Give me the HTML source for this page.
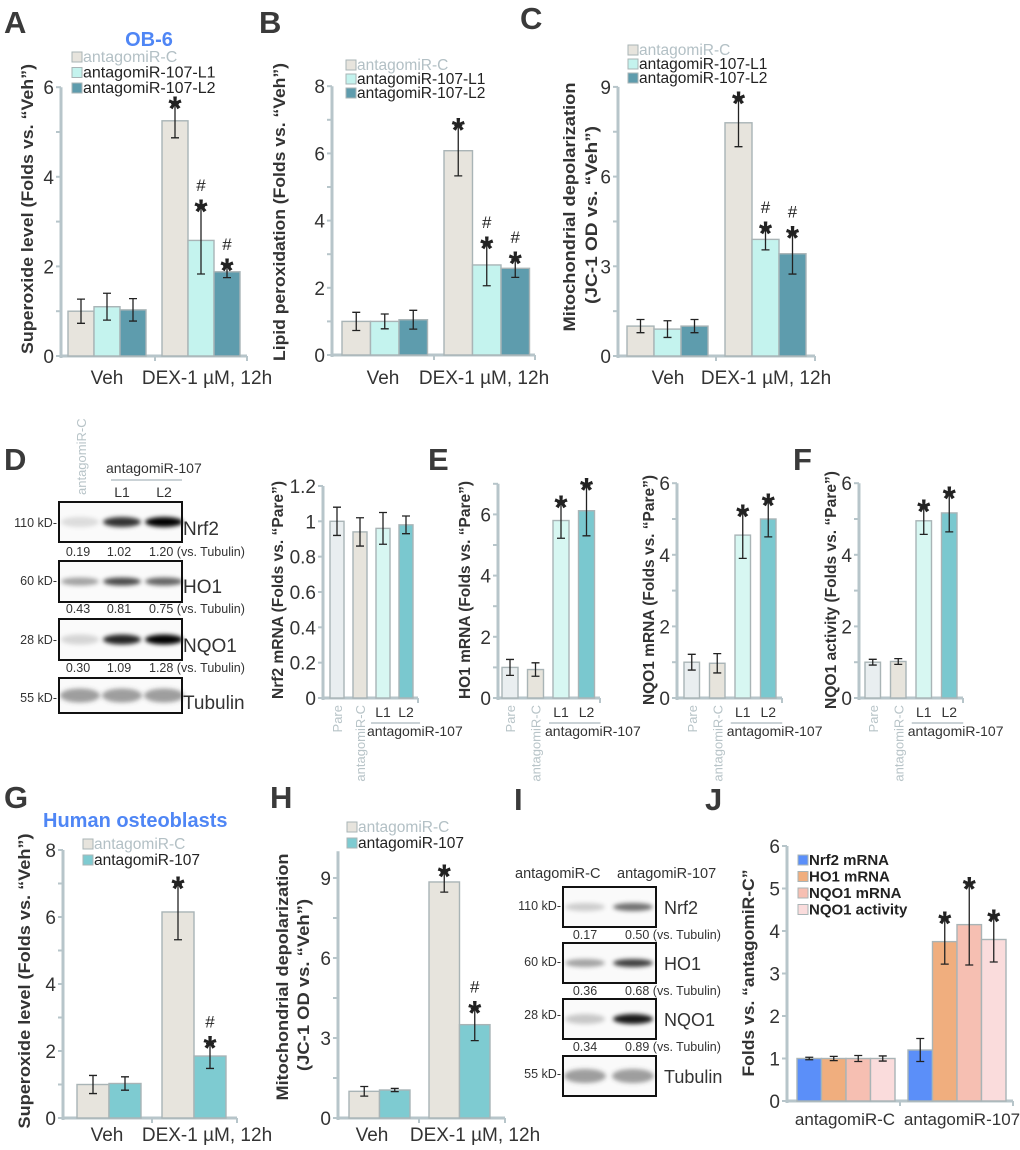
<!DOCTYPE html>
<html><head><meta charset="utf-8"><style>
html,body{margin:0;padding:0;background:#fff;}
svg{display:block;font-family:"Liberation Sans",Arial,sans-serif;}
</style></head><body>
<svg id="fig" width="1020" height="1150" viewBox="0 0 1020 1150" xmlns="http://www.w3.org/2000/svg">
<defs><filter id="blur" x="-30%" y="-100%" width="160%" height="300%"><feGaussianBlur stdDeviation="2.2"/></filter></defs>
</svg>
<script>
// ---------- DATA ----------
const A_groups=['Veh','DEX-1 µM, 12h'];
const A_C=[1.0,5.25], A_C_err=[0.27,0.38], A_C_marks=['','*'];
const A_L1=[1.1,2.58], A_L1_err=[0.3,0.75], A_L1_marks=['','#*'];
const A_L2=[1.03,1.88], A_L2_err=[0.25,0.13], A_L2_marks=['','#*'];
const A_ticks=[0,2,4,6];

const B_groups=['Veh','DEX-1 µM, 12h'];
const B_C=[1.0,6.08], B_C_err=[0.27,0.75], B_C_marks=['','*'];
const B_L1=[1.0,2.68], B_L1_err=[0.22,0.62], B_L1_marks=['','#*'];
const B_L2=[1.05,2.58], B_L2_err=[0.28,0.27], B_L2_marks=['','#*'];
const B_ticks=[0,2,4,6,8];

const C_groups=['Veh','DEX-1 µM, 12h'];
const C_C=[1.0,7.8], C_C_err=[0.22,0.8], C_C_marks=['','*'];
const C_L1=[0.9,3.9], C_L1_err=[0.28,0.35], C_L1_marks=['','#*'];
const C_L2=[1.0,3.42], C_L2_err=[0.22,0.68], C_L2_marks=['','#*'];
const C_ticks=[0,3,6,9];

const D_cats=['Pare','antagomiR-C','L1','L2'];
const Nrf2_vals=[1.0,0.94,0.96,0.98], Nrf2_err=[0.08,0.08,0.09,0.05], Nrf2_marks=['','','',''];
const Nrf2_ticks=[0,0.2,0.4,0.6,0.8,1,1.2];
const HO1_vals=[1.0,0.93,5.8,6.12], HO1_err=[0.26,0.22,0.58,0.82], HO1_marks=['','','*','*'];
const HO1_ticks=[0,2,4,6];
const NQO1m_vals=[1.0,0.97,4.55,5.0], NQO1m_err=[0.22,0.27,0.65,0.5], NQO1m_marks=['','','*','*'];
const NQO1m_ticks=[0,2,4,6];
const NQO1a_vals=[1.0,1.02,4.95,5.17], NQO1a_err=[0.08,0.08,0.38,0.53], NQO1a_marks=['','','*','*'];
const NQO1a_ticks=[0,2,4,6];

const G_groups=['Veh','DEX-1 µM, 12h'];
const G_C=[1.0,6.15], G_C_err=[0.27,0.83], G_C_marks=['','*'];
const G_107=[1.03,1.85], G_107_err=[0.2,0.37], G_107_marks=['','#*'];
const G_ticks=[0,2,4,6,8];

const H_groups=['Veh','DEX-1 µM, 12h'];
const H_C=[1.0,8.85], H_C_err=[0.18,0.38], H_C_marks=['','*'];
const H_107=[1.05,3.5], H_107_err=[0.06,0.6], H_107_marks=['','#*'];
const H_ticks=[0,3,6,9];

const J_groups=['antagomiR-C','antagomiR-107'];
const J_Nrf2=[1.0,1.2], J_Nrf2_err=[0.03,0.27], J_Nrf2_marks=['',''];
const J_HO1=[1.0,3.75], J_HO1_err=[0.05,0.53], J_HO1_marks=['','*'];
const J_NQO1m=[1.0,4.15], J_NQO1m_err=[0.07,0.95], J_NQO1m_marks=['','*'];
const J_NQO1a=[1.0,3.8], J_NQO1a_err=[0.06,0.53], J_NQO1a_marks=['','*'];
const J_ticks=[0,1,2,3,4,5,6];

// blot data
const D_Nrf2_q=['0.19','1.02','1.20'], D_HO1_q=['0.43','0.81','0.75'], D_NQO1_q=['0.30','1.09','1.28'];
const D_Nrf2_int=[0.12,0.8,1.0], D_HO1_int=[0.35,0.7,0.6], D_NQO1_int=[0.15,0.85,1.0], D_Tub_int=[0.5,0.5,0.5];
const I_Nrf2_q=['0.17','0.50'], I_HO1_q=['0.36','0.68'], I_NQO1_q=['0.34','0.89'];
const I_Nrf2_int=[0.18,0.55], I_HO1_int=[0.35,0.75], I_NQO1_int=[0.2,0.9], I_Tub_int=[0.5,0.5];

// ---------- HELPERS ----------
const NS='http://www.w3.org/2000/svg';
const svg=document.getElementById('fig');
const AX='#b7c5ca', TXT='#333';
function el(tag,attrs,parent){const e=document.createElementNS(NS,tag);for(const k in attrs)e.setAttribute(k,attrs[k]);(parent||svg).appendChild(e);return e;}
function txt(s,attrs,parent){const e=el('text',attrs,parent);e.textContent=s;return e;}
function grp(name){const g=el('g',{});return g;}

function drawChart(cfg,series){
  const g=grp(cfg.name);
  const yS=v=>cfg.y0-v*cfg.ppu;
  // axis
  const ya=el('line',{x1:cfg.ax,y1:cfg.y0+2,x2:cfg.ax,y2:yS(cfg.top),stroke:AX,'stroke-width':3},g);
  
  for(let v=0;v<=cfg.top+1e-6;v+=cfg.minor){el('line',{x1:cfg.ax-5,y1:yS(v),x2:cfg.ax,y2:yS(v),stroke:AX,'stroke-width':2},g);}
  cfg.ticks.forEach(v=>{
    const t=txt(String(v),{x:cfg.ax-7,y:yS(v)+7,'text-anchor':'end','font-size':cfg.tfs||19,fill:TXT},g);
    
  });
  const xa=el('line',{x1:cfg.ax,y1:cfg.y0,x2:cfg.xEnd,y2:cfg.y0,stroke:AX,'stroke-width':3},g);
  
  (cfg.xticks||[]).forEach(x=>el('line',{x1:x,y1:cfg.y0,x2:x,y2:cfg.y0+5,stroke:AX,'stroke-width':2},g));
  el('line',{x1:cfg.xEnd,y1:cfg.y0,x2:cfg.xEnd,y2:cfg.y0+5,stroke:AX,'stroke-width':2},g);
  // bars
  const nG=series[0].vals.length;
  for(let gi=0;gi<nG;gi++){
    series.forEach((s,si)=>{
      const v=s.vals[gi],e=s.errs[gi],m=s.marks[gi];
      const x=cfg.xStart+gi*cfg.period+si*cfg.step, w=cfg.barW, cx=x+w/2;
      const fill=Array.isArray(s.fill)?s.fill[gi]:s.fill;
      const r=el('rect',{x:x,y:yS(v),width:w,height:v*cfg.ppu,fill:fill,stroke:'#a9b4b6','stroke-width':1.4},g);
      
      const top=yS(v+e),bot=yS(v-e),cw=4;
      const eb=el('path',{d:`M${cx},${top}V${bot}M${cx-cw},${top}H${cx+cw}M${cx-cw},${bot}H${cx+cw}`,stroke:'#222','stroke-width':1.3,fill:'none'},g);
      
      if(m.indexOf('*')>=0){
        const st=txt('*',{x:cx,y:top+16,'text-anchor':'middle','font-size':34,'font-weight':'bold',fill:'#222'},g);
        
      }
      if(m.indexOf('#')>=0){
        const h=txt('#',{x:cx,y:top-16,'text-anchor':'middle','font-size':17,fill:'#222'},g);
        
      }
    });
  }
  return g;
}
function yTitle(lines,x,yc,len,fs){
  lines.forEach((l,i)=>{
    const t=txt(l,{transform:`translate(${x[i]},${yc[i]}) rotate(-90)`,'text-anchor':'middle','font-size':fs||17,'font-weight':'bold',fill:TXT,textLength:len[i],lengthAdjust:'spacingAndGlyphs'});
    
  });
}
function label(s,x,y,fs,extra){
  const a=Object.assign({x:x,y:y,'font-size':fs,fill:TXT},extra||{});
  const t=txt(s,a);return t;
}
function panelLetter(s,x,y){const t=txt(s,{x:x,y:y,'font-size':31,'font-weight':'bold',fill:'#3a3a3a'});}
function legend(items,x,y0,dy,fs,bold){
  items.forEach((it,i)=>{
    const y=y0+i*dy;
    const r=el('rect',{x:x,y:y-10,width:10,height:10,fill:it[1],stroke:'#a9b4b6','stroke-width':1});
    
    const t=txt(it[0],{x:x+11,y:y,'font-size':fs,fill:it[2]||'#222','font-weight':bold?'bold':'normal'});
    
  });
}
function rotLabel(s,x,yTop,fs,col){
  const t=txt(s,{transform:`translate(${x},${yTop}) rotate(-90)`,'text-anchor':'end','font-size':fs,fill:col});
  
}

// ---------- PANELS A-C ----------
const cC='#e7e4dd', cL1='#c4f3ee', cL2='#5e9cad', gray='#b3c0c5';
panelLetter('A',4,33);panelLetter('B',259,33);panelLetter('C',520,29);
label('OB-6',149,46,20,{'text-anchor':'middle','font-weight':'bold',fill:'#4f86f5'});
drawChart({name:'chart-a',ax:61,y0:356,ppu:44.8,top:6,ticks:A_ticks,minor:1,xStart:68,barW:26,period:94,step:26,xEnd:247,xticks:[155]},
 [{key:'c',vals:A_C,errs:A_C_err,marks:A_C_marks,fill:cC},{key:'l1',vals:A_L1,errs:A_L1_err,marks:A_L1_marks,fill:cL1},{key:'l2',vals:A_L2,errs:A_L2_err,marks:A_L2_marks,fill:cL2}]);
legend([['antagomiR-C',cC,gray],['antagomiR-107-L1',cL1],['antagomiR-107-L2',cL2]],72,62,15.5,16);
yTitle(['Superoxide level (Folds vs. “Veh”)'],[33],[209],[290]);
label(A_groups[0],107,384,19,{'text-anchor':'middle'});label(A_groups[1],207,384,19,{'text-anchor':'middle'});

drawChart({name:'chart-b',ax:332,y0:355,ppu:33.6,top:8,ticks:B_ticks,minor:1,xStart:342,barW:28.5,period:102,step:28.5,xEnd:535,xticks:[434]},
 [{key:'c',vals:B_C,errs:B_C_err,marks:B_C_marks,fill:cC},{key:'l1',vals:B_L1,errs:B_L1_err,marks:B_L1_marks,fill:cL1},{key:'l2',vals:B_L2,errs:B_L2_err,marks:B_L2_marks,fill:cL2}]);
legend([['antagomiR-C',cC,gray],['antagomiR-107-L1',cL1],['antagomiR-107-L2',cL2]],346,70,14,15.5);
yTitle(['Lipid peroxidation (Folds vs. “Veh”)'],[285],[212],[298]);
label(B_groups[0],383,384,19,{'text-anchor':'middle'});label(B_groups[1],484,384,19,{'text-anchor':'middle'});

drawChart({name:'chart-c',ax:618,y0:356,ppu:29.9,top:9,ticks:C_ticks,minor:1.5,xStart:627,barW:27,period:98,step:27,xEnd:815,xticks:[716]},
 [{key:'c',vals:C_C,errs:C_C_err,marks:C_C_marks,fill:cC},{key:'l1',vals:C_L1,errs:C_L1_err,marks:C_L1_marks,fill:cL1},{key:'l2',vals:C_L2,errs:C_L2_err,marks:C_L2_marks,fill:cL2}]);
legend([['antagomiR-C',cC,gray],['antagomiR-107-L1',cL1],['antagomiR-107-L2',cL2]],628,55,14,15.5);
yTitle(['Mitochondrial depolarization','(JC-1 OD vs. “Veh”)'],[575,597],[207,215],[249,178]);
label(C_groups[0],668,384,19,{'text-anchor':'middle'});label(C_groups[1],766,384,19,{'text-anchor':'middle'});

// ---------- PANEL D BLOT ----------
panelLetter('D',4,470);panelLetter('E',428,470);panelLetter('F',793,470);
rotLabel('antagomiR-C',86,420,13,'#b8c4c8');
(function(){const t=txt('antagomiR-C',{transform:'translate(86,495) rotate(-90)','font-size':13,fill:'#b8c4c8'});})();

svg.removeChild(svg.childNodes[svg.childNodes.length-2]);
label('antagomiR-107',106,473,14);
el('line',{x1:111,y1:480,x2:182,y2:480,stroke:'#b8c4c8','stroke-width':1.5});
label('L1',122,497,14,{'text-anchor':'middle'});label('L2',164,497,14,{'text-anchor':'middle'});
function blot(name,x,y,w,h,lanes,ints,rx,ry,col){
  const g=grp(name);
  el('rect',{x:x,y:y,width:w,height:h,fill:'#fafafa'},g);
  const yc=y+h/2;
  lanes.forEach((lx,i)=>{
    const e=el('ellipse',{cx:lx,cy:yc,rx:rx,ry:ry,fill:col,'fill-opacity':ints[i],filter:'url(#blur)'},g);
    
  });
  el('rect',{x:x,y:y,width:w,height:h,fill:'none',stroke:'#111','stroke-width':2},g);
}
const Dl=[80,122,164];
blot('blot-d-nrf2',59,502,123,40,Dl,D_Nrf2_int,19,5,'#000');
blot('blot-d-ho1',59,561,123,41,Dl,D_HO1_int,19,4,'#000');
blot('blot-d-nqo1',59,619,123,41,Dl,D_NQO1_int,19,5,'#000');
blot('blot-d-tubulin',59,678,123,35,Dl,D_Tub_int,20,7,'#444');
[['110 kD-',522],['60 kD-',580],['28 kD-',639],['55 kD-',697]].forEach(a=>label(a[0],57,a[1]+5,12.5,{'text-anchor':'end'}));
[['Nrf2',528],['HO1',586],['NQO1',645],['Tubulin',702]].forEach(a=>label(a[0],183,a[1]+7,19));
[[D_Nrf2_q,556],[D_HO1_q,613],[D_NQO1_q,672]].forEach(a=>{
  label(a[0][0],78,a[1],12.5,{'text-anchor':'middle'});label(a[0][1],119,a[1],12.5,{'text-anchor':'middle'});
  label(a[0][2]+' (vs. Tubulin)',149,a[1],12.5);
});

// ---------- PANELS D-F bar charts ----------
const dfCols=['#e9eef0','#e7e4dc','#d7f7f2','#7ac8cf'];
function catLabels(xStart,period,barW,y0){
  const c=i=>xStart+i*period+barW/2;
  rotLabel(D_cats[0],c(0)+5,y0+7,13,'#b8c4c8');
  rotLabel(D_cats[1],c(1)+5,y0+7,13,'#b8c4c8');
  label(D_cats[2],c(2),y0+19,14,{'text-anchor':'middle'});
  label(D_cats[3],c(3),y0+19,14,{'text-anchor':'middle'});
  el('line',{x1:c(2)-12,y1:y0+25,x2:c(3)+14,y2:y0+25,stroke:'#b8c4c8','stroke-width':1.5});
  label('antagomiR-107',c(2)-16,y0+38,14);
}
drawChart({name:'chart-nrf2-mrna',ax:323,y0:698,ppu:176.7,top:1.2,ticks:Nrf2_ticks,minor:0.2,xStart:330,barW:14,period:23,step:0,xEnd:418,tfs:19},
 [{key:'nrf2',vals:Nrf2_vals,errs:Nrf2_err,marks:Nrf2_marks,fill:dfCols}]);
yTitle(['Nrf2 mRNA (Folds vs. “Pare”)'],[283],[590],[218],16);
catLabels(330,23,14,698);

drawChart({name:'chart-ho1-mrna',ax:498,y0:698,ppu:30.6,top:7,ticks:HO1_ticks,minor:1,xStart:502,barW:16,period:25.5,step:0,xEnd:600,tfs:19},
 [{key:'ho1',vals:HO1_vals,errs:HO1_err,marks:HO1_marks,fill:dfCols}]);
yTitle(['HO1 mRNA (Folds vs. “Pare”)'],[470],[590],[218],16);
catLabels(502,25.5,16,698);

drawChart({name:'chart-nqo1-mrna',ax:677,y0:698,ppu:35.8,top:6,ticks:NQO1m_ticks,minor:1,xStart:684,barW:15.5,period:25.5,step:0,xEnd:782,tfs:19},
 [{key:'nqo1m',vals:NQO1m_vals,errs:NQO1m_err,marks:NQO1m_marks,fill:dfCols}]);
yTitle(['NQO1 mRNA (Folds vs. “Pare”)'],[654],[590],[230],16);
catLabels(684,25.5,15.5,698);

drawChart({name:'chart-nqo1-activity',ax:859,y0:698,ppu:35.8,top:6,ticks:NQO1a_ticks,minor:1,xStart:865,barW:15.5,period:25.5,step:0,xEnd:963,tfs:19},
 [{key:'nqo1a',vals:NQO1a_vals,errs:NQO1a_err,marks:NQO1a_marks,fill:dfCols}]);
yTitle(['NQO1 activity (Folds vs. “Pare”)'],[836],[590],[238],16);
catLabels(865,25.5,15.5,698);

// ---------- PANELS G-H ----------
const c107='#7ecbd1';
panelLetter('G',4,808);panelLetter('H',270,808);panelLetter('I',514,810);panelLetter('J',705,810);
label('Human osteoblasts',43,827,20,{'font-weight':'bold',fill:'#4f86f5'});
drawChart({name:'chart-g',ax:63,y0:1118,ppu:33.5,top:8,ticks:G_ticks,minor:1,xStart:77,barW:32,period:85,step:32,xEnd:237,xticks:[152]},
 [{key:'c',vals:G_C,errs:G_C_err,marks:G_C_marks,fill:cC},{key:'107',vals:G_107,errs:G_107_err,marks:G_107_marks,fill:c107}]);
legend([['antagomiR-C',cC,gray],['antagomiR-107',c107]],83,849,16,15.5);
yTitle(['Superoxide level (Folds vs. “Veh”)'],[30],[981],[295]);
label(G_groups[0],107,1141,19,{'text-anchor':'middle'});label(G_groups[1],207,1141,19,{'text-anchor':'middle'});

drawChart({name:'chart-h',ax:338,y0:1118,ppu:26.67,top:10,ticks:H_ticks,minor:1.5,xStart:349,barW:30.5,period:80,step:30.5,xEnd:505,xticks:[419]},
 [{key:'c',vals:H_C,errs:H_C_err,marks:H_C_marks,fill:cC},{key:'107',vals:H_107,errs:H_107_err,marks:H_107_marks,fill:c107}]);
legend([['antagomiR-C',cC,gray],['antagomiR-107',c107]],347,832,16,15.5);
yTitle(['Mitochondrial depolarization','(JC-1 OD vs. “Veh”)'],[288,309],[977,985],[247,172]);
label(H_groups[0],372,1141,19,{'text-anchor':'middle'});label(H_groups[1],475,1141,19,{'text-anchor':'middle'});

// ---------- PANEL I BLOT ----------
label('antagomiR-C',515,878,14.5);label('antagomiR-107',617,878,14.5);
const Il=[585,633];
blot('blot-i-nrf2',563,887,93,40,Il,I_Nrf2_int,20,4,'#000');
blot('blot-i-ho1',563,943,93,40,Il,I_HO1_int,20,4,'#000');
blot('blot-i-nqo1',563,999,93,40,Il,I_NQO1_int,20,5,'#000');
blot('blot-i-tubulin',563,1056,93,40,Il,I_Tub_int,21,7,'#444');
[['110 kD-',905],['60 kD-',961],['28 kD-',1014],['55 kD-',1073]].forEach(a=>label(a[0],561,a[1]+5,12.5,{'text-anchor':'end'}));
[['Nrf2',907],['HO1',963],['NQO1',1019],['Tubulin',1076]].forEach(a=>label(a[0],664,a[1]+7,18));
[[I_Nrf2_q,939],[I_HO1_q,995],[I_NQO1_q,1051]].forEach(a=>{
  label(a[0][0],585,a[1],12.5,{'text-anchor':'middle'});label(a[0][1]+' (vs. Tubulin)',625,a[1],12.5);
});

// ---------- PANEL J ----------
const jC=['#5b8ff9','#f0ae7e','#f6bfb2','#fadcdc'];
drawChart({name:'chart-j',ax:787,y0:1101,ppu:42.5,top:6,ticks:J_ticks,minor:1,xStart:797,barW:24.5,period:111,step:24.5,xEnd:1013,xticks:[900]},
 [{key:'nrf2',vals:J_Nrf2,errs:J_Nrf2_err,marks:J_Nrf2_marks,fill:jC[0]},{key:'ho1',vals:J_HO1,errs:J_HO1_err,marks:J_HO1_marks,fill:jC[1]},
  {key:'nqo1m',vals:J_NQO1m,errs:J_NQO1m_err,marks:J_NQO1m_marks,fill:jC[2]},{key:'nqo1a',vals:J_NQO1a,errs:J_NQO1a_err,marks:J_NQO1a_marks,fill:jC[3]}]);
legend([['Nrf2 mRNA',jC[0]],['HO1 mRNA',jC[1]],['NQO1 mRNA',jC[2]],['NQO1 activity',jC[3]]],798,865,16.5,15,true);
yTitle(['Folds vs. “antagomiR-C”'],[754],[973],[207]);
label(J_groups[0],845,1125,17,{'text-anchor':'middle'});label(J_groups[1],962,1125,17,{'text-anchor':'middle'});
</script>
</body></html>
